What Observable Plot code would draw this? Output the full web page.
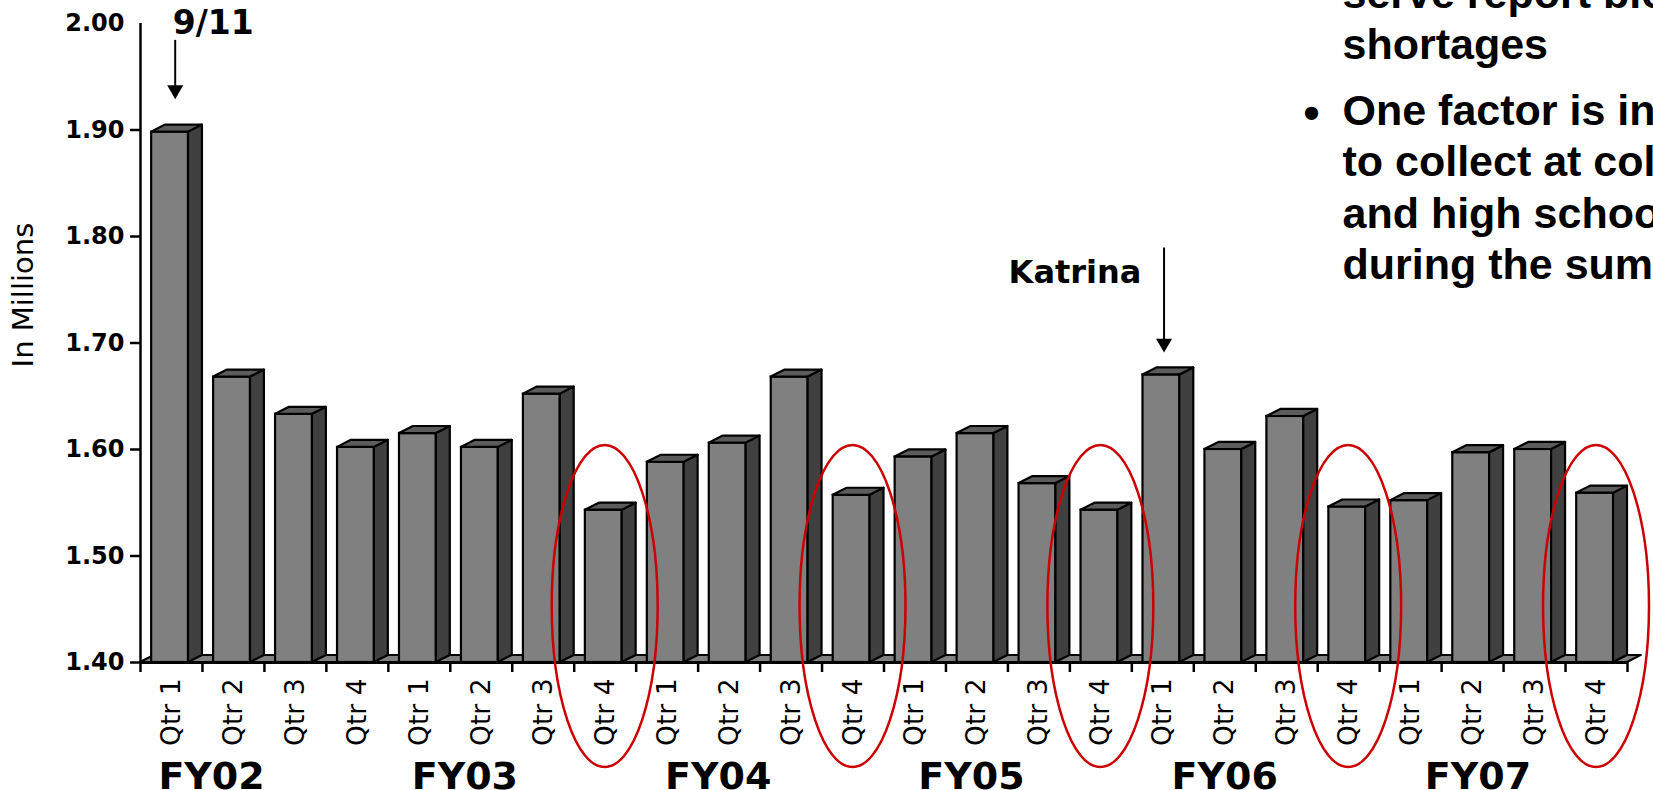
<!DOCTYPE html>
<html>
<head>
<meta charset="utf-8">
<script src="https://cdn.jsdelivr.net/npm/d3@7"></script>
<script src="https://cdn.jsdelivr.net/npm/@observablehq/plot@0.6"></script>
<style>
  html, body { margin: 0; padding: 0; background: #fff; overflow: hidden; }
  #chart svg { display: block; }
</style>
</head>
<body>
<div id="chart"></div>
<script>
// ---------------- data ----------------
const years = ["FY02", "FY03", "FY04", "FY05", "FY06", "FY07"];
const quarters = ["Qtr 1", "Qtr 2", "Qtr 3", "Qtr 4"];
// collections, in millions (FY02 Qtr1 ... FY07 Qtr4)
const donations = [
  1.898, 1.668, 1.633, 1.602,
  1.615, 1.602, 1.652, 1.543,
  1.588, 1.606, 1.668, 1.557,
  1.593, 1.615, 1.568, 1.543,
  1.670, 1.600, 1.631, 1.546,
  1.552, 1.597, 1.600, 1.559
];
const yTicks = [1.40, 1.50, 1.60, 1.70, 1.80, 1.90, 2.00];
const yTitle = "In Millions";
const circledQuarter = "Qtr 4";
const circledYears = ["FY03", "FY04", "FY05", "FY06", "FY07"];
const eventLabels = ["9/11", "Katrina"];
const eventYears = ["FY02", "FY06"];
const eventQuarters = ["Qtr 1", "Qtr 1"];
const noteLines1 = ["serve report blood", "shortages"];
const noteLines2 = ["One factor is inability", "to collect at colleges", "and high schools", "during the summer"];

// ---------------- table ----------------
const rows = years.flatMap((yr, yi) => quarters.map((q, qi) => ({
  year: yr, quarter: q, i: yi * 4 + qi, value: donations[yi * 4 + qi]
})));
const idx = (yr, q) => years.indexOf(yr) * 4 + quarters.indexOf(q);

// 3-D geometry (in scale units)
const BASE = 1.4, TOP = 2.0, F0 = 0.18, F1 = 0.775, DX = 0.225, DY = 0.0066;

const sidePts = rows.flatMap(d => [
  {i: d.i, x: d.i + F1, y1: BASE, y2: d.value},
  {i: d.i, x: d.i + F1 + DX, y1: BASE + DY, y2: d.value + DY}
]);
const topPts = rows.flatMap(d => [
  {i: d.i, y: d.value, x1: d.i + F0, x2: d.i + F1},
  {i: d.i, y: d.value + DY, x1: d.i + F0 + DX, x2: d.i + F1 + DX}
]);
const floorPts = [
  {y: BASE, x1: 0, x2: rows.length},
  {y: BASE + DY, x1: DX, x2: rows.length + DX}
];

// annotations (arrow x within band, tail/tip values; label anchor)
const arrowOffset = [0.56, 0.52];
const arrowTail = [1.979, 1.784];
const arrowTip = [1.929, 1.691];
const labelX = [0.52, 16.155];
const labelY = [1.9906, 1.7568];
const labelAnchor = ["start", "end"];
const arrows = eventLabels.map((label, k) => {
  const i = idx(eventYears[k], eventQuarters[k]);
  return {label, x: i + arrowOffset[k], tail: arrowTail[k], tip: arrowTip[k],
          lx: labelX[k], ly: labelY[k], anchor: labelAnchor[k]};
});

const circled = circledYears.map(yr => idx(yr, circledQuarter));

// ellipse mark rendered through the scales
function ellipseMark(centers, {cy, ry, rx, stroke, strokeWidth}) {
  return (index, scales) => {
    const ns = "http://www.w3.org/2000/svg";
    const g = document.createElementNS(ns, "g");
    g.setAttribute("aria-label", "highlight ellipses");
    const X = scales.x, Y = scales.y;
    for (const c of centers) {
      const e = document.createElementNS(ns, "ellipse");
      e.setAttribute("cx", X(c + 0.5));
      e.setAttribute("cy", Y(cy));
      e.setAttribute("rx", Math.abs(X(rx) - X(0)));
      e.setAttribute("ry", Math.abs(Y(BASE) - Y(BASE + ry)));
      e.setAttribute("fill", "none");
      e.setAttribute("stroke", stroke);
      e.setAttribute("stroke-width", strokeWidth);
      g.appendChild(e);
    }
    return g;
  };
}

const eventText = (anchor) => Plot.text(arrows.filter(d => d.anchor === anchor), {
  x: "lx", y: "ly", text: "label", textAnchor: anchor, lineAnchor: "bottom",
  fontSize: anchor === "start" ? 33 : 32, fontWeight: "bold", fill: "black"
});

const noteStyle = {x: 19.40, textAnchor: "start", lineAnchor: "bottom", lineHeight: 1.19,
  fontSize: 43, fontWeight: "bold", fontFamily: "Liberation Sans", fill: "black"};

const chart = Plot.plot({
  width: 1653,
  height: 790,
  marginLeft: 140,
  marginRight: 26,
  marginTop: 23,
  marginBottom: 128,
  x: {domain: [0, rows.length], axis: null},
  y: {domain: [BASE, TOP], axis: null},
  style: {fontFamily: "DejaVu Sans", background: "white", color: "black"},
  marks: [
    // floor
    Plot.areaX(floorPts, {y: "y", x1: "x1", x2: "x2", fill: "#808080", stroke: "black", strokeWidth: 2}),
    // bars: front, side, top
    Plot.rectY(rows, {x1: d => d.i + F0, x2: d => d.i + F1, y1: BASE, y2: "value", fill: "#808080", stroke: "black", strokeWidth: 2.2}),
    Plot.areaY(sidePts, {x: "x", y1: "y1", y2: "y2", z: "i", fill: "#404040", stroke: "black", strokeWidth: 2.2, strokeLinejoin: "round"}),
    Plot.areaX(topPts, {y: "y", x1: "x1", x2: "x2", z: "i", fill: "#5c5c5c", stroke: "black", strokeWidth: 2.2, strokeLinejoin: "round"}),
    // axis lines
    Plot.ruleY([BASE], {x1: 0, x2: rows.length, stroke: "black", strokeWidth: 3}),
    Plot.ruleX([0], {y1: BASE, y2: TOP, stroke: "black", strokeWidth: 2.5}),
    Plot.axisY({ticks: yTicks, tickFormat: d3.format(".2f"), tickSize: 0, tickPadding: 16,
      fontSize: 24, fontWeight: "bold", label: null}),
    Plot.axisY({ticks: yTicks.filter(t => t < TOP), tickFormat: () => "", tickSize: 10, strokeWidth: 2.5, label: null}),
    Plot.axisX({ticks: d3.range(rows.length + 1), tickFormat: () => "", tickSize: 10, strokeWidth: 2.5, label: null}),
    Plot.axisX({ticks: rows.map(d => d.i + 0.5), tickFormat: t => rows[Math.floor(t)].quarter,
      tickSize: 0, tickPadding: 16, tickRotate: -90, fontSize: 26.5, label: null}),
    // fiscal year labels
    Plot.text(years, {x: (d, yi) => 1.147 + 4.088 * yi, frameAnchor: "bottom", dy: 126, lineAnchor: "bottom",
      fontSize: 38, fontWeight: "bold", fill: "black"}),
    // y title
    Plot.text([yTitle], {y: 1.745, frameAnchor: "left", dx: -108, rotate: -90, lineAnchor: "bottom",
      textAnchor: "middle", fontSize: 29, fontFamily: "DejaVu Sans", fill: "black"}),
    // ellipses
    ellipseMark(circled, {cy: 1.4526, ry: 0.1512, rx: 0.855, stroke: "#cc0000", strokeWidth: 2.5}),
    // event arrows
    Plot.link(arrows, {x1: "x", x2: "x", y1: "tail", y2: "tip", stroke: "black", strokeWidth: 2, dy: -6}),
    Plot.dot(arrows, {x: "x", y: "tip", symbol: "triangle", r: 5.94, rotate: 180, dy: -9.2, fill: "black", stroke: "none"}),
    eventText("start"),
    eventText("end"),
    // notes on the right
    Plot.text([noteLines1.join("\n")], {...noteStyle, y: 1.9669}),
    Plot.text([noteLines2.join("\n")], {...noteStyle, y: 1.7603}),
    Plot.text(["•"], {x: 18.77, y: 1.9014, textAnchor: "start", lineAnchor: "bottom",
      fontSize: 46, fontWeight: "bold", fontFamily: "Liberation Sans", fill: "black"})
  ]
});
document.getElementById("chart").append(chart);
</script>
</body>
</html>
